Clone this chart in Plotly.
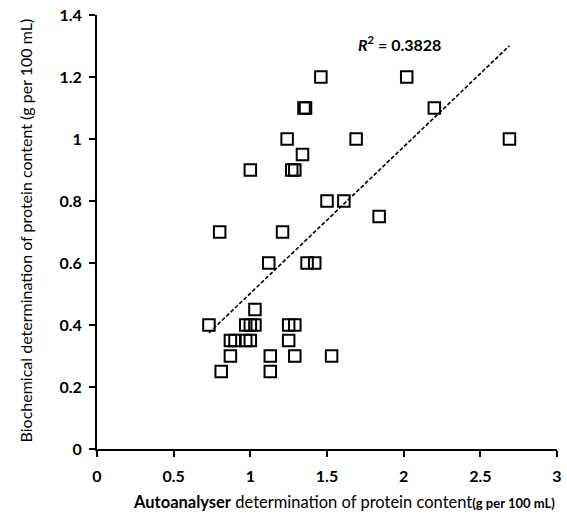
import numpy as np
import plotly.graph_objects as go

# Autoanalyser vs biochemical protein content (g per 100 mL)
autoanalyser = [0.73, 0.80, 0.81, 0.87, 0.87, 0.90, 0.97, 1.00, 1.25,
                0.97, 1.00, 1.03, 1.25, 1.29, 1.03, 1.12, 1.37, 1.42,
                1.13, 1.29, 1.53, 1.13, 1.46, 2.02, 1.35, 1.36, 2.20,
                1.24, 1.69, 2.69, 1.34, 1.00, 1.27, 1.29, 1.50, 1.61,
                1.84, 1.21]
biochemical = [0.40, 0.70, 0.25, 0.30, 0.35, 0.35, 0.35, 0.35, 0.35,
               0.40, 0.40, 0.40, 0.40, 0.40, 0.45, 0.60, 0.60, 0.60,
               0.30, 0.30, 0.30, 0.25, 1.20, 1.20, 1.10, 1.10, 1.10,
               1.00, 1.00, 1.00, 0.95, 0.90, 0.90, 0.90, 0.80, 0.80,
               0.75, 0.70]
r_squared_label = "0.3828"

x_ticks = [0, 0.5, 1, 1.5, 2, 2.5, 3]
x_tick_text = ["0", "0.5", "1", "1.5", "2", "2.5", "3"]
y_ticks = [0, 0.2, 0.4, 0.6, 0.8, 1.0, 1.2, 1.4]
y_tick_text = ["0", "0.2", "0.4", "0.6", "0.8", "1", "1.2", "1.4"]

# Linear least-squares trendline over the observed x range
slope, intercept = np.polyfit(autoanalyser, biochemical, 1)
trend_x = [min(autoanalyser), max(autoanalyser)]
trend_y = [slope * v + intercept for v in trend_x]

FONT = "Lato, 'Open Sans', sans-serif"

fig = go.Figure()
fig.add_trace(go.Scatter(
    x=trend_x, y=trend_y, mode="lines",
    line=dict(color="black", width=1.6, dash="4px,2px"),
    hoverinfo="skip", showlegend=False,
))
fig.add_trace(go.Scatter(
    x=autoanalyser, y=biochemical, mode="markers",
    marker=dict(symbol="square-open", size=11.5, color="black",
                line=dict(color="black", width=2)),
    showlegend=False,
))

fig.update_layout(
    width=567, height=525,
    margin=dict(l=97, r=5, t=14, b=76),
    paper_bgcolor="white", plot_bgcolor="white",
    font=dict(family=FONT, color="black"),
    xaxis=dict(
        range=[0, 3], tickvals=x_ticks, ticktext=x_tick_text,
        showgrid=False, zeroline=False,
        showline=True, linecolor="black", linewidth=2,
        ticks="outside", ticklen=6, tickwidth=2, tickcolor="black",
        tickfont=dict(size=16, family=FONT, weight="bold"),
        ticklabelstandoff=6,
    ),
    yaxis=dict(
        range=[0, 1.4], tickvals=y_ticks, ticktext=y_tick_text,
        showgrid=False, zeroline=False,
        showline=True, linecolor="black", linewidth=2,
        ticks="outside", ticklen=6, tickwidth=2, tickcolor="black",
        tickfont=dict(size=16, family=FONT, weight="bold"),
        ticklabelstandoff=4,
    ),
    annotations=[
        dict(
            text="<b><i>R</i><sup>2</sup> = " + r_squared_label + "</b>",
            xref="paper", yref="paper", x=0.562, y=0.934,
            xanchor="left", yanchor="middle", showarrow=False,
            font=dict(size=16, family=FONT),
        ),
        dict(
            text="<b>Autoanalyser</b> determination of protein content"
                 "<b><span style='font-size:13px'>(g per 100 mL)</span></b>",
            xref="paper", yref="paper", x=1.0, y=-0.122,
            xanchor="right", yanchor="middle", showarrow=False,
            font=dict(size=16.5, family=FONT),
        ),
        dict(
            text="Biochemical determination of protein content (g per 100 mL)",
            xref="paper", yref="paper", x=-0.155, y=0.503,
            xanchor="center", yanchor="middle", textangle=-90,
            showarrow=False, font=dict(size=16, family=FONT),
        ),
    ],
)

fig.write_html("out.html")
